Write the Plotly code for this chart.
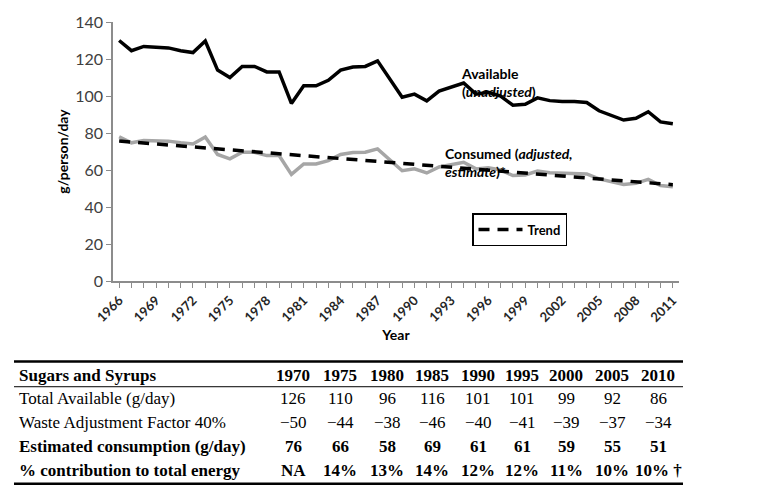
import numpy as np
import plotly.graph_objects as go

# ---------------- data ----------------
years = list(range(1966, 2012))
available = [130, 124.5, 126.8, 126.5, 126, 124.5, 123.5, 129.7, 114, 110,
             116, 116, 113, 113, 96, 105.5, 105.5, 108.5, 114, 115.7,
             116, 119, 109, 99.3, 101, 97.4, 102.6, 104.7, 107, 101,
             102, 100, 95, 95.5, 99, 97.5, 97, 97, 96.5, 92,
             89.5, 87, 88, 91.5, 86, 85]
consumed = [78, 74.7, 76, 75.9, 75.6, 74.7, 74.1, 77.8, 68.4, 66,
            69.6, 69.6, 67.8, 67.8, 57.6, 63.3, 63.3, 65.1, 68.4, 69.4,
            69.6, 71.4, 65.4, 59.6, 60.6, 58.4, 61.6, 62.8, 64.2, 60.6,
            61.2, 60, 57, 57.3, 59.4, 58.5, 58.2, 58.2, 57.9, 55.2,
            53.7, 52.2, 52.8, 54.9, 51.6, 51]

table_years = ["1970", "1975", "1980", "1985", "1990", "1995", "2000", "2005", "2010"]
total_available = ["126", "110", "96", "116", "101", "101", "99", "92", "86"]
waste_factor = ["\u221250", "\u221244", "\u221238", "\u221246", "\u221240", "\u221241", "\u221239", "\u221237", "\u221234"]
estimated = ["76", "66", "58", "69", "61", "61", "59", "55", "51"]
pct_energy = ["NA", "14%", "13%", "14%", "12%", "12%", "11%", "10%", "10% \u2020"]
row_labels = ["Sugars and Syrups", "Total Available (g/day)", "Waste Adjustment Factor 40%",
              "Estimated consumption (g/day)", "% contribution to total energy"]

# linear trend of consumed series
coef = np.polyfit(years, consumed, 1)
trend = list(np.polyval(coef, years))

# ---------------- layout geometry ----------------
W, H = 774, 497
L, R, T, B = 113, 95, 14, 216
PW = W - L - R
PH = H - T - B

def px(xp):
    return (xp - L) / PW

def py(yp):
    return (H - B - yp) / PH

FONT = "Lato"
SERIF = "Liberation Serif"

fig = go.Figure()
fig.add_trace(go.Scatter(x=years, y=available, mode="lines", name="Available",
                         line=dict(color="black", width=3.5), showlegend=False))
fig.add_trace(go.Scatter(x=years, y=consumed, mode="lines", name="Consumed",
                         line=dict(color="#a6a6a6", width=3.5), showlegend=False))
fig.add_trace(go.Scatter(x=years, y=trend, mode="lines", name="Trend",
                         line=dict(color="black", width=3.5, dash="11px,8px"), showlegend=True))

fig.update_layout(
    width=W, height=H,
    margin=dict(l=L, r=R, t=T, b=B, pad=0),
    paper_bgcolor="white", plot_bgcolor="white",
    font=dict(family=FONT, size=15, color="#404040"),
    legend=dict(x=px(472), y=py(211), xanchor="left", yanchor="top",
                bordercolor="black", borderwidth=1.5, bgcolor="white",
                font=dict(family=FONT, size=13, color="black", weight="bold"),
                itemwidth=44, tracegroupgap=0),
    xaxis=dict(range=[1965.5, 2011.5], tickmode="linear", tick0=1966, dtick=3,
               tickangle=-45, showgrid=False, zeroline=False,
               showline=True, linecolor="#8c8c8c", linewidth=1.5,
               ticks="outside", ticklen=5, tickcolor="#8c8c8c",
               minor=dict(dtick=1, tick0=1966, ticks="outside", ticklen=5, tickcolor="#8c8c8c"),
               tickfont=dict(family=FONT, size=13, color="#262626", weight="bold"),
               title=dict(text="<b>Year</b>", font=dict(family=FONT, size=14, color="black"), standoff=6)),
    yaxis=dict(range=[0, 140], tickmode="linear", tick0=0, dtick=20,
               showgrid=False, zeroline=False,
               showline=True, linecolor="#8c8c8c", linewidth=1.5,
               ticks="outside", ticklen=5, tickcolor="#8c8c8c",
               tickfont=dict(family=FONT, size=16, color="#404040"),
               title=dict(text="<b>g/person/day</b>", font=dict(family=FONT, size=14, color="black"), standoff=3)),
)

# chart annotations
fig.add_annotation(x=1993.6, y=107.5, xref="x", yref="y", xanchor="left", yanchor="middle",
                   align="left", showarrow=False,
                   text="<b>Available<br>(<i>unadjusted</i>)</b>",
                   font=dict(family=FONT, size=14, color="black"))
fig.add_annotation(x=1992.3, y=64, xref="x", yref="y", xanchor="left", yanchor="middle",
                   align="left", showarrow=False,
                   text="<b>Consumed (<i>adjusted,</i><br><i>estimate</i>)*</b>",
                   font=dict(family=FONT, size=14, color="black"))

# ---------------- table ----------------
col_x = [293, 340, 387, 432, 478, 522, 566, 612, 658]
row_y = [378, 402, 427, 452, 476]
rows = [table_years, total_available, waste_factor, estimated, pct_energy]
bold_rows = {0, 3, 4}
for ri, (lab, vals) in enumerate(zip(row_labels, rows)):
    b = ri in bold_rows
    t = (lambda s: f"<b>{s}</b>") if b else (lambda s: s)
    fig.add_annotation(x=px(17), y=py(row_y[ri]), xref="paper", yref="paper",
                       xanchor="left", yanchor="middle", showarrow=False,
                       text=t(lab), font=dict(family=SERIF, size=17, color="black"))
    for ci, v in enumerate(vals):
        fig.add_annotation(x=px(col_x[ci]), y=py(row_y[ri]), xref="paper", yref="paper",
                           xanchor="center", yanchor="middle", showarrow=False,
                           text=t(v), font=dict(family=SERIF, size=17, color="black"))

for yline, wline in [(364, 2.5), (390, 1), (490, 2.5)]:
    fig.add_shape(type="line", xref="paper", yref="paper",
                  x0=px(14), x1=px(683), y0=py(yline), y1=py(yline),
                  line=dict(color="black", width=wline))

fig.write_html("out.html", config={"displayModeBar": False},
               post_script="document.body.style.margin='0';document.body.style.padding='0';")
